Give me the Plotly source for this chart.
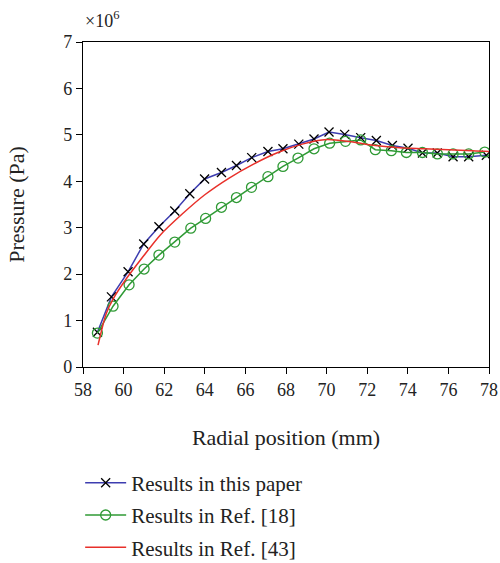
import plotly.graph_objects as go

# Data
blue_x = [58.71, 59.40, 60.22, 60.99, 61.74, 62.52, 63.26, 63.99, 64.82, 65.56, 66.31,
          67.11, 67.85, 68.63, 69.38, 70.12, 70.89, 71.68, 72.45, 73.24, 74.01, 74.72,
          75.45, 76.23, 77.00, 77.87]
blue_y = [0.75, 1.51, 2.05, 2.65, 3.02, 3.36, 3.73, 4.05, 4.19, 4.34, 4.51,
          4.64, 4.70, 4.80, 4.91, 5.06, 5.01, 4.94, 4.88, 4.77, 4.71, 4.61,
          4.61, 4.53, 4.53, 4.56]

green_x = [58.71, 59.48, 60.27, 61.01, 61.74, 62.52, 63.31, 64.04, 64.82, 65.56, 66.30,
           67.11, 67.85, 68.59, 69.38, 70.15, 70.93, 71.68, 72.40, 73.19, 73.93, 74.72,
           75.46, 76.23, 77.00, 77.79]
green_y = [0.73, 1.31, 1.77, 2.11, 2.41, 2.69, 2.99, 3.20, 3.44, 3.65, 3.87,
           4.10, 4.32, 4.50, 4.70, 4.82, 4.86, 4.89, 4.68, 4.66, 4.62, 4.62,
           4.59, 4.59, 4.59, 4.63]

red_x = [58.74, 59.15, 59.5, 60.1, 61.0, 61.8, 62.9, 64.0, 65.2, 66.4, 67.6, 68.8,
         70.0, 71.2, 72.4, 73.6, 74.8, 76.0, 77.2, 78.0]
red_y = [0.47, 1.16, 1.48, 1.88, 2.40, 2.84, 3.30, 3.71, 4.07, 4.37, 4.62, 4.80,
         4.90, 4.85, 4.77, 4.72, 4.70, 4.68, 4.66, 4.64]

x_ticks = [58, 60, 62, 64, 66, 68, 70, 72, 74, 76, 78]
y_ticks = [0, 1, 2, 3, 4, 5, 6, 7]

FONT = "Liberation Serif"

fig = go.Figure()
fig.add_trace(go.Scatter(
    x=blue_x, y=blue_y, mode="lines+markers", name="Results in this paper",
    line=dict(color="#3d3db0", width=1.5),
    marker=dict(symbol="x-thin", size=9, color="black",
                line=dict(color="black", width=1.3)),
    legendgroup="a"))
fig.add_trace(go.Scatter(
    x=green_x, y=green_y, mode="lines+markers", name="Results in Ref. [18]",
    line=dict(color="#2f9a35", width=1.5),
    marker=dict(symbol="circle-open", size=10, color="#2f9a35",
                line=dict(color="#2f9a35", width=1.3)),
    legendgroup="b"))
fig.add_trace(go.Scatter(
    x=red_x, y=red_y, mode="lines", name="Results in Ref. [43]",
    line=dict(color="#e8302a", width=1.5, shape="spline", smoothing=0.8),
    legendgroup="c"))

fig.update_layout(
    width=500, height=563,
    margin=dict(l=83, r=11, t=42, b=196, autoexpand=False),
    paper_bgcolor="white", plot_bgcolor="white",
    font=dict(family=FONT, size=18, color="#222"),
    showlegend=True,
    legend=dict(x=-0.007, y=-0.294, xanchor="left", yanchor="top",
                bgcolor="rgba(0,0,0,0)", tracegroupgap=2, itemwidth=41,
                font=dict(family=FONT, size=21)),
    xaxis=dict(range=[58, 78], tickvals=x_ticks, ticks="outside", ticklen=6,
               tickcolor="black", linecolor="black", linewidth=1.2, mirror=True,
               showgrid=False, zeroline=False,
               title=dict(text="Radial position (mm)", standoff=30)),
    yaxis=dict(range=[0, 7], tickvals=y_ticks, ticks="outside", ticklen=6,
               tickcolor="black", linecolor="black", linewidth=1.2, mirror=True,
               showgrid=False, zeroline=False,
               title=dict(text="Pressure (Pa)", standoff=32)),
)
fig.add_annotation(text="×10<sup>6</sup>", xref="paper", yref="paper",
                   x=0, y=1.028, xanchor="left", yanchor="bottom",
                   showarrow=False, font=dict(family=FONT, size=18))

fig.write_html("out.html",
               config={"displayModeBar": False},
               post_script="document.body.style.margin='0';"
                           "document.body.style.overflow='hidden';")
